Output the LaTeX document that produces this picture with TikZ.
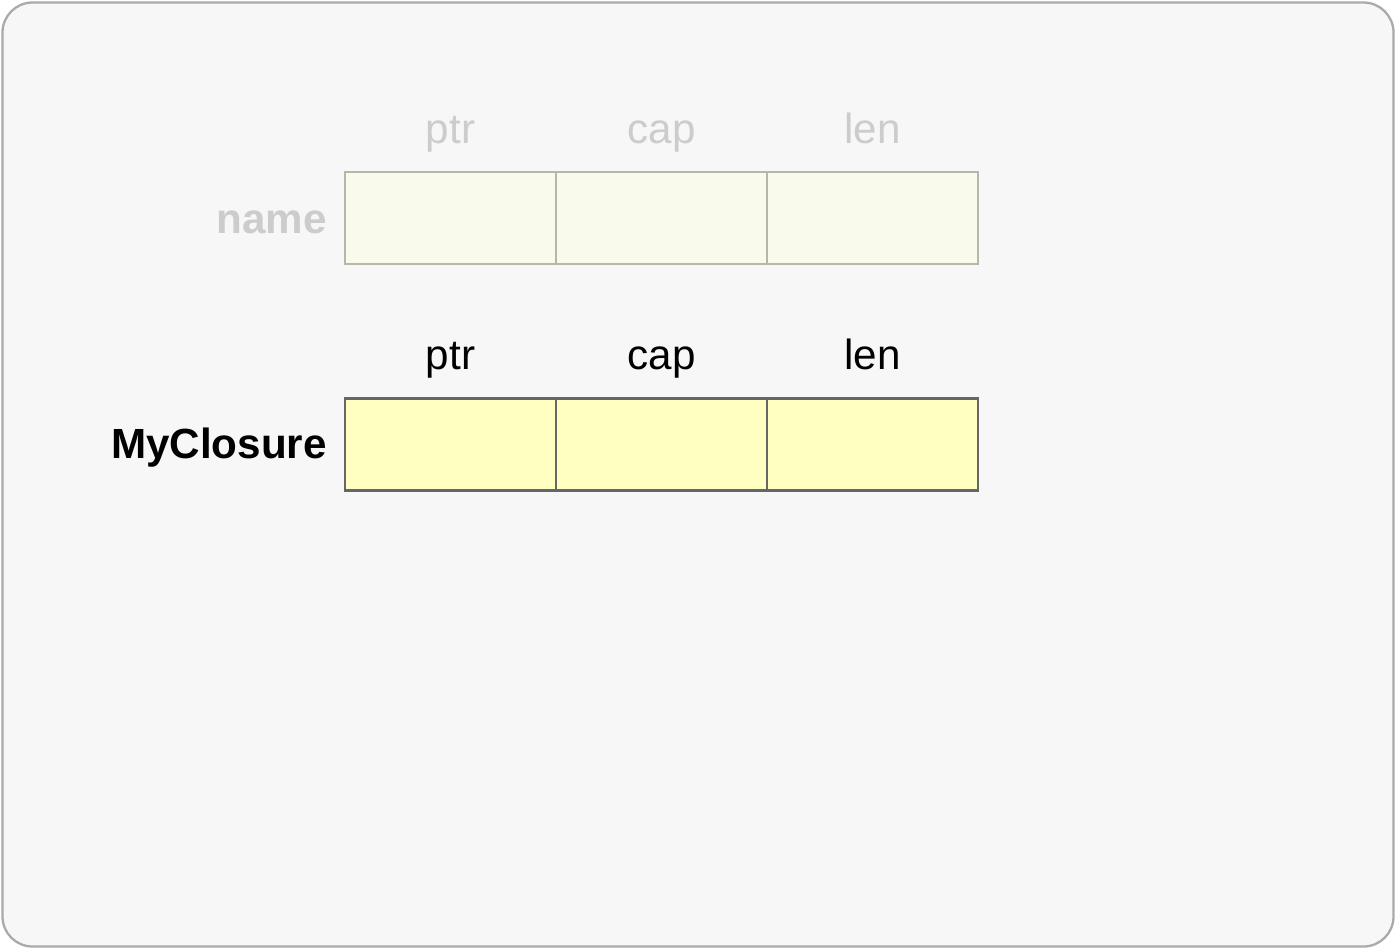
\documentclass[tikz,border=0pt]{standalone}
\usepackage{fontspec}
\setmainfont{Liberation Sans}
\definecolor{framegray}{RGB}{170,170,170}
\definecolor{panelbg}{RGB}{247,247,247}
\definecolor{fadefill}{RGB}{249,249,236}
\definecolor{fadeline}{RGB}{182,182,170}
\definecolor{fadetext}{RGB}{204,204,204}
\definecolor{cellfill}{RGB}{255,255,194}
\definecolor{cellline}{RGB}{102,102,102}
\usetikzlibrary{positioning}

\begin{document}
\begin{tikzpicture}[
		cell/.style={draw=cellline, line width=1.4pt, fill=cellfill,
			minimum width=4.22cm, minimum height=1.84cm, inner sep=0pt, outer sep=0pt},
		fadecell/.style={cell, draw=fadeline, fill=fadefill},
		field/.style={font=\fontsize{24}{28}\selectfont, anchor=base},
		vname/.style={font=\fontsize{24}{28}\selectfont\bfseries, anchor=base east}
	]
		\useasboundingbox (0,0) rectangle (27.92,-18.98);
		\draw[framegray, line width=1.3pt, fill=panelbg, rounded corners=0.6cm] (0.05,-0.05) rectangle (27.87,-18.93);
		% faded row
		\node[fadecell] (n1) at (9.01,-4.36) {};
		\node[fadecell] (n2) at (13.23,-4.36) {};
		\node[fadecell] (n3) at (17.45,-4.36) {};
		\node[field, fadetext] (np) at (9.01,-2.86) {ptr};
		\node[field, fadetext] (nc) at (13.23,-2.86) {cap};
		\node[field, fadetext] (nl) at (17.45,-2.86) {len};
		\node[vname, fadetext] (nv) at (6.66,-4.66) {name};
		% closure row
		\node[cell] (m1) at (9.01,-8.89) {};
		\node[cell] (m2) at (13.23,-8.89) {};
		\node[cell] (m3) at (17.45,-8.89) {};
		\node[field] (mp) at (9.01,-7.38) {ptr};
		\node[field] (mc) at (13.23,-7.38) {cap};
		\node[field] (ml) at (17.45,-7.38) {len};
		\node[vname] (mv) at (6.66,-9.16) {MyClosure};
	\end{tikzpicture}
\end{document}
